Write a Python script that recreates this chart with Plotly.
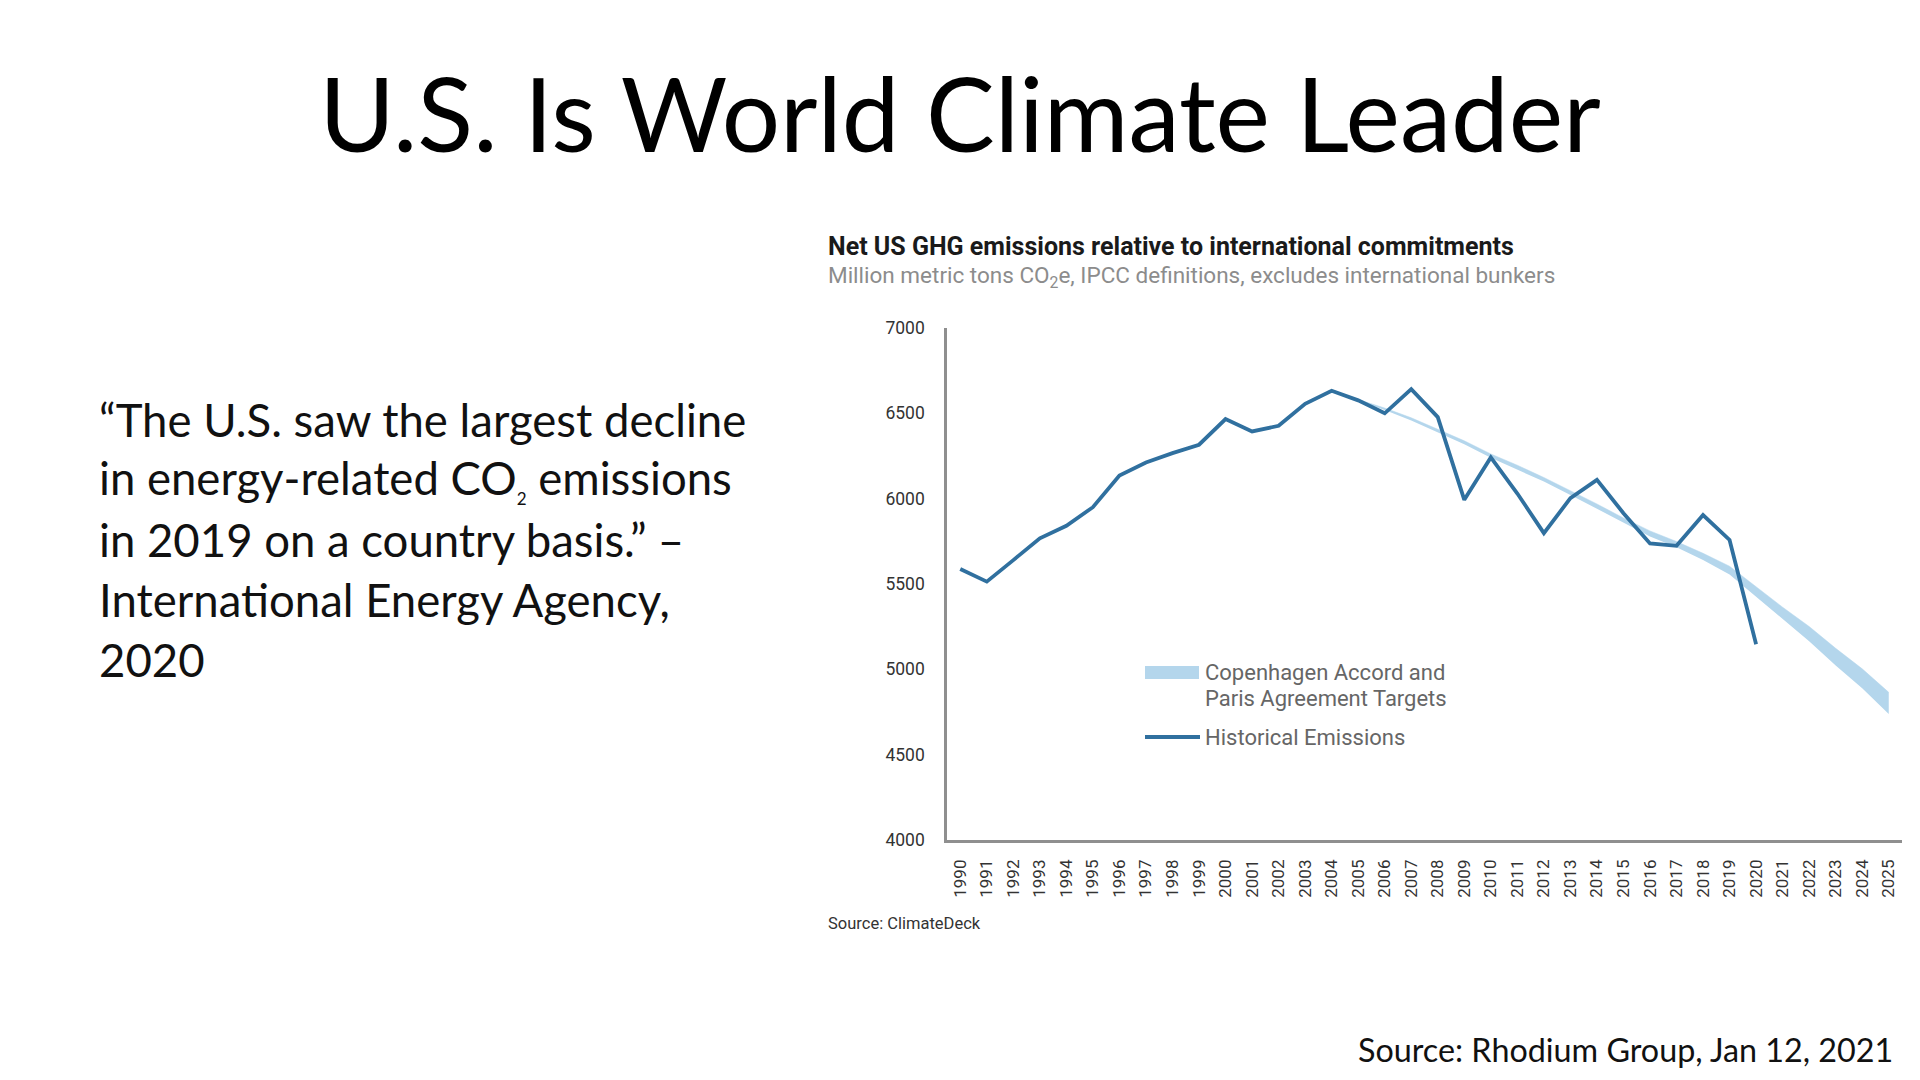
import plotly.graph_objects as go

# ---------------- data ----------------
hist_years = list(range(1990, 2021))
hist_values = [5588, 5514, 5640, 5768, 5841, 5950, 6136, 6212, 6267, 6316,
               6466, 6394, 6427, 6556, 6632, 6576, 6500, 6642, 6478, 5993,
               6242, 6030, 5798, 6003, 6110, 5915, 5738, 5724, 5904, 5758,
               5147]

target_years = list(range(2005, 2026))
target_upper = [6581, 6531, 6474, 6408, 6339, 6262, 6196, 6124, 6048, 5969,
                5887, 5811, 5749, 5680, 5604, 5484, 5364, 5251, 5123, 5003,
                4865]
target_lower = [6575, 6519, 6458, 6390, 6319, 6240, 6172, 6100, 6022, 5941,
                5857, 5779, 5715, 5640, 5556, 5426, 5292, 5165, 5023, 4889,
                4739]

x_tick_years = list(range(1990, 2026))
x_tick_labels = [str(y) for y in x_tick_years]
y_tick_vals = [4000, 4500, 5000, 5500, 6000, 6500, 7000]
y_tick_labels = [str(v) for v in y_tick_vals]

quote_lines = [
    "\u201cThe U.S. saw the largest decline",
    "in energy-related CO<sub><span style='font-size:17px'>2</span></sub> emissions",
    "in 2019 on a country basis.\u201d \u2013",
    "International Energy Agency,",
    "2020",
]

# ---------------- style ----------------
W, H = 1920, 1080
L, R, T, B = 947, 18, 328, 240
PW = W - L - R
PH = H - T - B
LINE_COLOR = "#30709f"
BAND_COLOR = "#b4d6ec"
AXIS_COLOR = "#8f8f8f"
SLIDE_FONT = "Lato, Inter, sans-serif"
CHART_FONT = "Roboto, 'Noto Sans', sans-serif"


def fx(px):
    return (px - L) / PW


def fy(py):
    return (H - B - py) / PH


fig = go.Figure()
fig.add_trace(go.Scatter(
    x=target_years, y=target_lower, mode="lines",
    line=dict(width=0, color=BAND_COLOR), hoverinfo="skip", showlegend=False))
fig.add_trace(go.Scatter(
    x=target_years, y=target_upper, mode="lines", fill="tonexty",
    fillcolor=BAND_COLOR, line=dict(width=0.5, color=BAND_COLOR),
    name="Copenhagen Accord and Paris Agreement Targets", showlegend=False))
fig.add_trace(go.Scatter(
    x=hist_years, y=hist_values, mode="lines",
    line=dict(color=LINE_COLOR, width=3.8),
    name="Historical Emissions", showlegend=False))

annotations = []
# quote
for i, txt in enumerate(quote_lines):
    annotations.append(dict(
        text=txt, xref="paper", yref="paper", x=fx(97), y=fy(419 + 60 * i),
        xanchor="left", yanchor="middle", showarrow=False,
        font=dict(family=SLIDE_FONT, size=45.5, color="#111111")))
# chart title & subtitle
annotations.append(dict(
    text="<b>Net US GHG emissions relative to international commitments</b>",
    xref="paper", yref="paper", x=fx(826), y=fy(246), xanchor="left",
    yanchor="middle", showarrow=False,
    font=dict(family=CHART_FONT, size=25, color="#1a1a1a")))
annotations.append(dict(
    text="Million metric tons CO<sub>2</sub>e, IPCC definitions, excludes international bunkers",
    xref="paper", yref="paper", x=fx(826), y=fy(277), xanchor="left",
    yanchor="middle", showarrow=False,
    font=dict(family=CHART_FONT, size=22.5, color="#8c8c8c")))
# legend texts
for txt, py in [("Copenhagen Accord and", 672), ("Paris Agreement Targets", 698),
                ("Historical Emissions", 737)]:
    annotations.append(dict(
        text=txt, xref="paper", yref="paper", x=fx(1203), y=fy(py),
        xanchor="left", yanchor="middle", showarrow=False,
        font=dict(family=CHART_FONT, size=22, color="#666666")))
# sources
annotations.append(dict(
    text="Source: ClimateDeck", xref="paper", yref="paper", x=fx(826), y=fy(923),
    xanchor="left", yanchor="middle", showarrow=False,
    font=dict(family=CHART_FONT, size=16.5, color="#333333")))
annotations.append(dict(
    text="Source: Rhodium Group, Jan 12, 2021", xref="paper", yref="paper",
    x=fx(1895), y=fy(1049), xanchor="right", yanchor="middle", showarrow=False,
    font=dict(family=SLIDE_FONT, size=32.3, color="#111111")))

shapes = [
    dict(type="rect", xref="paper", yref="paper", x0=fx(1145), x1=fx(1199),
         y0=fy(666), y1=fy(679), fillcolor=BAND_COLOR, line=dict(width=0)),
    dict(type="line", xref="paper", yref="paper", x0=fx(1145), x1=fx(1200),
         y0=fy(737), y1=fy(737), line=dict(color=LINE_COLOR, width=3.8)),
]

fig.update_layout(
    width=W, height=H,
    margin=dict(l=L, r=R, t=T, b=B, pad=0),
    paper_bgcolor="white", plot_bgcolor="white",
    showlegend=False,
    title=dict(text="U.S. Is World Climate Leader", xref="container",
               yref="container", x=0.5, xanchor="center", y=1 - 116 / H,
               yanchor="middle",
               font=dict(family=SLIDE_FONT, size=103, color="#000000")),
    xaxis=dict(range=[1989.5, 2025.5], tickmode="array", tickvals=x_tick_years,
               ticktext=x_tick_labels, tickangle=-90, showline=True,
               linecolor=AXIS_COLOR, linewidth=2.5, showgrid=False,
               zeroline=False, ticks="", ticklabelstandoff=10,
               tickfont=dict(family=CHART_FONT, size=17, color="#333333")),
    yaxis=dict(range=[4000, 7000], tickmode="array", tickvals=y_tick_vals,
               ticktext=y_tick_labels, showline=True, linecolor=AXIS_COLOR,
               linewidth=2.5, showgrid=False, zeroline=False, ticks="",
               ticklabelstandoff=16,
               tickfont=dict(family=CHART_FONT, size=17.5, color="#333333")),
    annotations=annotations,
    shapes=shapes,
)

fig.write_html("out.html", config={"displayModeBar": False},
               post_script="document.body.style.margin='0';")
